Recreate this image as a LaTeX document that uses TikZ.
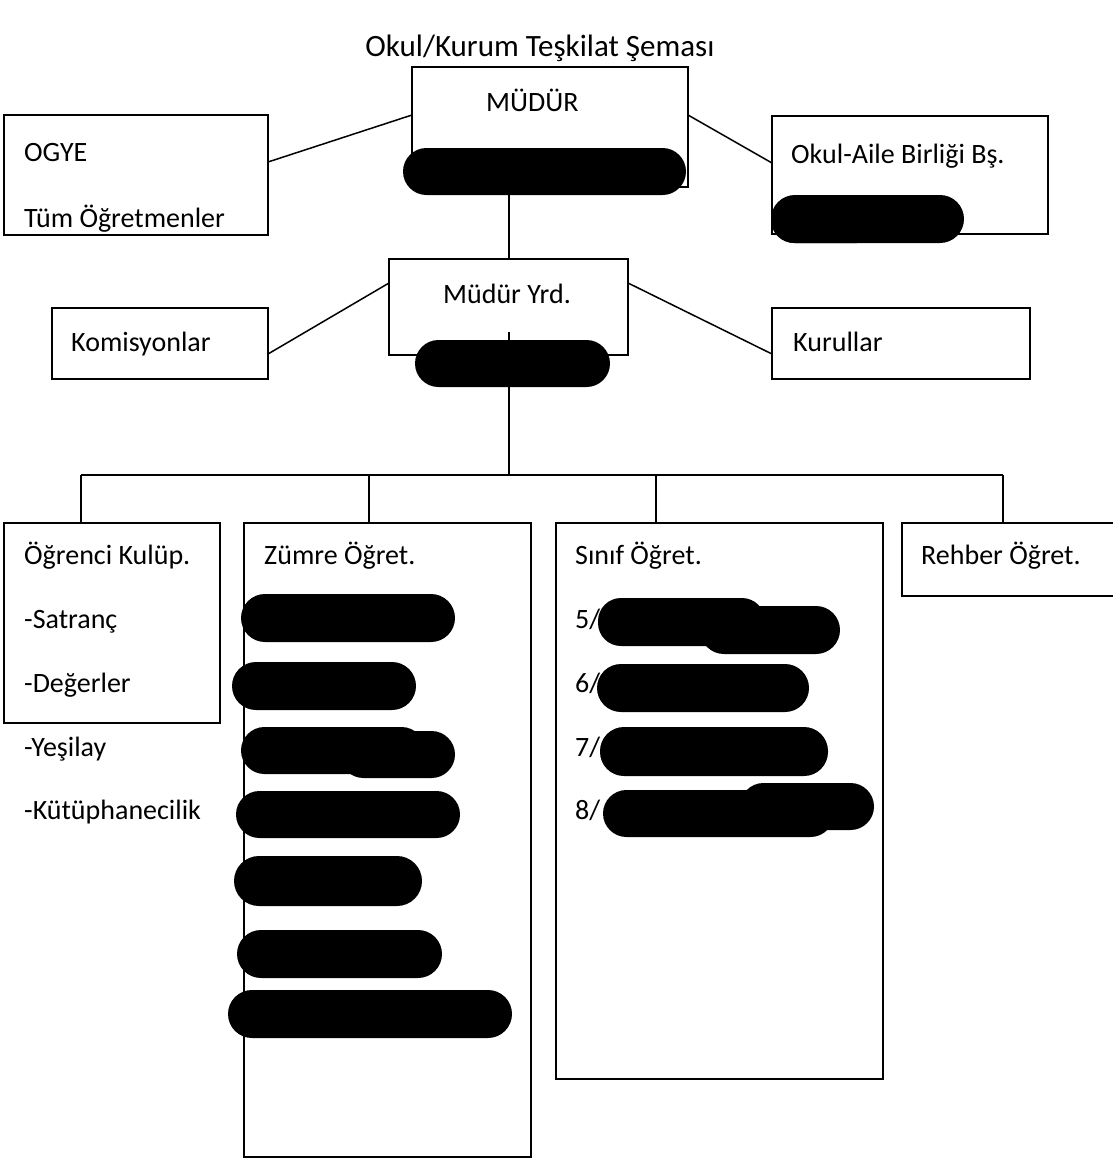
\documentclass[tikz,border=0pt]{standalone}
\usepackage{fontspec}
\setmainfont{Carlito}
\begin{document}
\begin{tikzpicture}[x=1pt,y=-1pt,
  box/.style={draw=black,line width=1.5pt,fill=white},
  lbl/.style={anchor=base west,inner sep=0pt,font=\fontsize{28}{34}\selectfont},
  conn/.style={line width=1.5pt},
  blob/.style={fill=black}]
\useasboundingbox (0,0) rectangle (1112,1160);
\fill[white] (0,0) rectangle (1112,1160);
% title
\node[lbl,anchor=base,font=\fontsize{31}{36}\selectfont] (title) at (540,56) {Okul/Kurum Teşkilat Şeması};
% top row
\draw[box] (412,67) rectangle (688,187);
\coordinate (mudW) at (412,115); \coordinate (mudE) at (688,115);
\coordinate (mudS) at (509,187);
\draw[box] (4,115) rectangle (268,235);
\coordinate (ogyeE) at (268,162);
\draw[box] (772,116) rectangle (1048,234);
\coordinate (oabW) at (772,163);
\node[lbl] (mudur) at (486,111) {MÜDÜR};
\node[lbl] (ogye) at (24,161) {OGYE};
\node[lbl] (tum) at (24,227) {Tüm Öğretmenler};
\node[lbl] (oab) at (791,163) {Okul-Aile Birliği Bş.};
\draw[conn] (mudW) -- (ogyeE);
\draw[conn] (mudE) -- (oabW);
% second row
\draw[box] (389,259) rectangle (628,355);
\coordinate (yrdN) at (509,259); \coordinate (yrdW) at (389,283);
\coordinate (yrdE) at (628,283); \coordinate (yrdIn) at (509,332);
\draw[box] (52,308) rectangle (268,379);
\coordinate (komE) at (268,354);
\draw[box] (772,308) rectangle (1030,379);
\coordinate (kurW) at (772,354);
\node[lbl] (yrd) at (443,303) {Müdür Yrd.};
\node[lbl] (kom) at (71,351) {Komisyonlar};
\node[lbl] (kur) at (793,351) {Kurullar};
\draw[conn] (mudS) -- (yrdN);
\draw[conn] (yrdW) -- (komE);
\draw[conn] (yrdE) -- (kurW);
% bus
\coordinate (busC) at (509,475);
\coordinate (b1) at (81,475); \coordinate (b2) at (369,475);
\coordinate (b3) at (656,475); \coordinate (b4) at (1003,475);
\draw[conn] (yrdIn) -- (busC);
\draw[conn] (b1) -- (b4);
\coordinate (t1) at (81,523); \coordinate (t2) at (369,523);
\coordinate (t3) at (656,523); \coordinate (t4) at (1003,523);
\draw[conn] (b1) -- (t1); \draw[conn] (b2) -- (t2);
\draw[conn] (b3) -- (t3); \draw[conn] (b4) -- (t4);
% bottom boxes
\draw[box] (4,523) rectangle (220,723);
\draw[box] (244,523) rectangle (531,1157);
\draw[box] (556,523) rectangle (883,1079);
\draw[box] (902,523) rectangle (1118,596);
\node[lbl] (ogr) at (24,564) {Öğrenci Kulüp.};
\node[lbl] (sat) at (24,628) {-Satranç};
\node[lbl] (deg) at (24,692) {-Değerler};
\node[lbl] (yes) at (24,756) {-Yeşilay};
\node[lbl] (kut) at (24,819) {-Kütüphanecilik};
\node[lbl] (zum) at (264,564) {Zümre Öğret.};
\node[lbl] (sin) at (575,564) {Sınıf Öğret.};
\node[lbl] (c5) at (575,628) {5/};
\node[lbl] (c6) at (575,692) {6/};
\node[lbl] (c7) at (575,756) {7/};
\node[lbl] (c8) at (575,819) {8/};
\node[lbl] (reh) at (921,564) {Rehber Öğret.};
% redaction blobs
\fill[blob,rounded corners=23.5pt] (403,148) rectangle (686,195);
\fill[blob,rounded corners=24pt] (771,195) rectangle (964,243);
\fill[blob,rounded corners=23pt] (771,200) rectangle (880,243);
\fill[blob,rounded corners=23.5pt] (415,340) rectangle (610,387);
\fill[blob,rounded corners=24pt] (241,594) rectangle (455,642);
\fill[blob,rounded corners=24pt] (232,662) rectangle (416,710);
\fill[blob,rounded corners=23.5pt] (241,727) rectangle (425,774);
\fill[blob,rounded corners=23.5pt] (340,731) rectangle (455,778);
\fill[blob,rounded corners=23.5pt] (236,791) rectangle (460,838);
\fill[blob,rounded corners=25pt] (234,856) rectangle (422,906);
\fill[blob,rounded corners=24pt] (237,930) rectangle (442,978);
\fill[blob,rounded corners=24pt] (228,990) rectangle (512,1038);
\fill[blob,rounded corners=23pt] (598,598) rectangle (765,646);
\fill[blob,rounded corners=24pt] (700,606) rectangle (840,654);
\fill[blob,rounded corners=24pt] (597,664) rectangle (809,712);
\fill[blob,rounded corners=24pt] (600,727) rectangle (828,776);
\fill[blob,rounded corners=23.5pt] (603,790) rectangle (834,837);
\fill[blob,rounded corners=23.5pt] (740,783) rectangle (874,830);
\end{tikzpicture}
\end{document}
